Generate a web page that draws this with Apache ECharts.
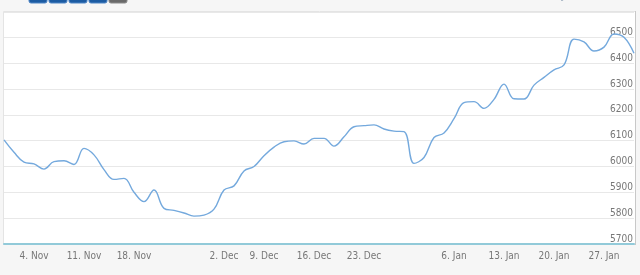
<!DOCTYPE html>
<html>
<head>
<meta charset="utf-8">
<script src="https://cdn.jsdelivr.net/npm/echarts@6/dist/echarts.min.js"></script>
<style>
html,body{margin:0;padding:0;background:#f6f6f6;}
#chart{width:640px;height:275px;}
</style>
</head>
<body>
<div id="chart"></div>
<script>
const dates = [
  '30. Oct','31. Oct','1. Nov',
  '4. Nov','5. Nov','6. Nov','7. Nov','8. Nov',
  '11. Nov','12. Nov','13. Nov','14. Nov','15. Nov',
  '18. Nov','19. Nov','20. Nov','21. Nov','22. Nov',
  '25. Nov','26. Nov','27. Nov','29. Nov',
  '2. Dec','3. Dec','4. Dec','5. Dec',
  '9. Dec','10. Dec','11. Dec','12. Dec','13. Dec',
  '16. Dec','17. Dec','18. Dec','19. Dec','20. Dec',
  '23. Dec','24. Dec','26. Dec','27. Dec','28. Dec','30. Dec','31. Dec','2. Jan','3. Jan',
  '6. Jan','7. Jan','8. Jan','9. Jan','10. Jan',
  '13. Jan','14. Jan','15. Jan','16. Jan','17. Jan',
  '20. Jan','21. Jan','22. Jan','23. Jan','24. Jan',
  '27. Jan','28. Jan','29. Jan','30. Jan'
];
const values = [
  6103, 6055, 6017,
  6010, 5990, 6019, 6022, 6008,
  6070, 6045, 5988, 5950, 5954,
  5900, 5864, 5909, 5838, 5830,
  5820, 5808, 5812, 5835,
  5909, 5925, 5983, 6000,
  6042, 6075, 6096, 6099, 6087,
  6109, 6109, 6079, 6115, 6154,
  6158, 6161, 6145, 6137, 6135, 6012, 6035, 6112, 6130,
  6185, 6247, 6251, 6225, 6260,
  6319, 6262, 6261, 6315, 6345,
  6374, 6393, 6493, 6482, 6447,
  6462, 6513, 6500, 6438
];
const tickLabels = ['4. Nov','11. Nov','18. Nov','2. Dec','9. Dec','16. Dec','23. Dec','6. Jan','13. Jan','20. Jan','27. Jan'];
const zoomButtons = ['1m','3m','6m','1y','All'];
const rangeTexts = ['Oct 30, 2024','Jan 30, 2025'];

const FONT = "'Liberation Sans Narrow','DejaVu Sans Condensed',Arial,sans-serif";
const chart = echarts.init(document.getElementById('chart'), null, {renderer:'canvas'});

const graphics = [
  {type:'rect', z:-10, shape:{x:3.5,y:11.5,width:632,height:233}, style:{fill:'#ffffff', stroke:'#e4e4e4', lineWidth:1}},
  {type:'line', z:-9, shape:{x1:635.5,y1:11,x2:635.5,y2:245}, style:{stroke:'#c8c8c8', lineWidth:1}},
  {type:'text', left:0, top:-10, style:{text:'Zoom', fill:'#888', font:'11px '+FONT}}
];
zoomButtons.forEach((b,i)=>{
  const last = i === zoomButtons.length-1;
  graphics.push({type:'rect', shape:{x:29+i*20, y:-12, width:18, height:15, r:2},
    style:{fill: last ? '#6a6a6a' : '#1d5ca3', stroke: last ? '#8a8a8a' : '#4f86c6', lineWidth:1}});
  graphics.push({type:'text', x:38+i*20, y:-11, style:{text:b, fill:'#fff', font:'10px '+FONT, textAlign:'center'}});
});
graphics.push({type:'text', x:505, y:-9, style:{text:rangeTexts[0], fill:'#9aaabb', font:'11px '+FONT, textAlign:'center'}});
graphics.push({type:'text', x:593, y:-9, style:{text:rangeTexts[1], fill:'#9aaabb', font:'11px '+FONT, textAlign:'center'}});

chart.setOption({
  backgroundColor:'#f6f6f6',
  animation:false,
  graphic: graphics,
  grid:{left:4, right:6, top:12, bottom:31, containLabel:false},
  xAxis:{
    type:'category',
    data: dates,
    boundaryGap:false,
    axisLine:{show:true, lineStyle:{color:'#92cad9', width:2}},
    axisTick:{show:false},
    splitLine:{show:false},
    axisLabel:{
      interval:(idx, val)=> tickLabels.includes(val),
      color:'#777', fontSize:10, fontFamily:FONT, margin:7
    }
  },
  yAxis:{
    type:'value',
    position:'right',
    min:5700, max:6598, interval:100,
    axisLine:{show:false},
    axisTick:{show:false},
    splitLine:{lineStyle:{color:'#e8e8e8', width:1}},
    axisLabel:{
      inside:true, margin:1, color:'#777', fontSize:10, fontFamily:FONT,
      verticalAlign:'bottom', showMaxLabel:false,
      formatter:(v)=> (v % 100 === 0 ? String(v) : '')
    }
  },
  series:[{
    type:'line',
    data: values,
    smooth:0.4,
    symbol:'none',
    lineStyle:{color:'#74a9dd', width:1.4}
  }]
});
</script>
</body>
</html>
